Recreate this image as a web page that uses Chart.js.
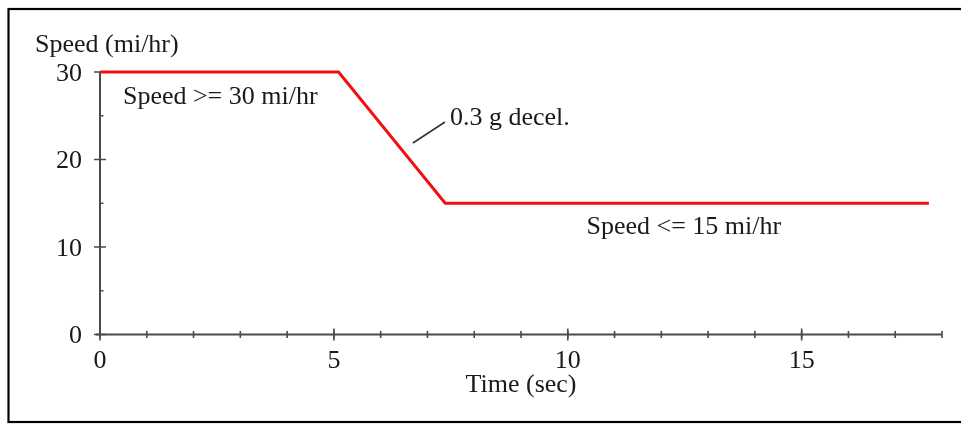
<!DOCTYPE html>
<html>
<head>
<meta charset="utf-8">
<script src="https://cdn.jsdelivr.net/npm/chart.js@4/dist/chart.umd.min.js"></script>
<style>
  html, body { margin: 0; padding: 0; background: #fff; }
  #wrap { width: 961px; height: 424px; position: relative; }
</style>
</head>
<body>
<div id="wrap"><canvas id="c"></canvas></div>
<script>
// ---- data ----
const timeSec = [0, 5.1, 7.38, 17.72];
const speedMph = [30, 30, 15, 15];
const xTickLabels = [0, 5, 10, 15];
const yTickLabels = [0, 10, 20, 30];
const xMinorTicks = [0,1,2,3,4,5,6,7,8,9,10,11,12,13,14,15,16,17,18];
const yMinorTicks = [5, 15, 25];
const xTitle = 'Time (sec)';
const yTitle = 'Speed (mi/hr)';
const noteTexts = ['Speed >= 30 mi/hr', '0.3 g decel.', 'Speed <= 15 mi/hr'];
const noteX = [0.49, 7.48, 10.40];
const noteY = [26.29, 23.94, 11.49];
const leaderX = [6.69, 7.375];
const leaderY = [21.89, 24.29];

const FONT = '26px "Liberation Serif", "Times New Roman", serif';
const TEXT = '#1a1a1a';
const AXIS = '#4a4a4a';

const points = timeSec.map((t, i) => ({ x: t, y: speedMph[i] }));

const decor = {
  id: 'decor',
  beforeDatasetsDraw(chart) {
    const ctx = chart.ctx;
    const xs = chart.scales.x, ys = chart.scales.y;
    const px = v => xs.getPixelForValue(v);
    const py = v => ys.getPixelForValue(v);
    ctx.save();
    // frame
    ctx.strokeStyle = '#000';
    ctx.lineWidth = 2.2;
    ctx.strokeRect(8.5, 9, 962, 413);
    // axes
    ctx.strokeStyle = AXIS;
    ctx.lineWidth = 2;
    ctx.beginPath();
    ctx.moveTo(px(0), py(30));
    ctx.lineTo(px(0), py(0));
    ctx.moveTo(px(0) - 4, py(0));
    ctx.lineTo(px(18), py(0));
    ctx.stroke();
    // minor ticks
    ctx.lineWidth = 1.6;
    ctx.beginPath();
    xMinorTicks.forEach(v => { ctx.moveTo(px(v), py(0) - 3.5); ctx.lineTo(px(v), py(0) + 3.5); });
    yMinorTicks.forEach(v => { ctx.moveTo(px(0) - 1, py(v)); ctx.lineTo(px(0) + 3.5, py(v)); });
    ctx.stroke();
    // major ticks
    ctx.beginPath();
    xTickLabels.forEach(v => { ctx.moveTo(px(v), py(0) - 6); ctx.lineTo(px(v), py(0) + 6); });
    yTickLabels.forEach(v => { ctx.moveTo(px(0) - 6, py(v)); ctx.lineTo(px(0) + 6, py(v)); });
    ctx.stroke();
    // tick labels
    ctx.fillStyle = TEXT;
    ctx.font = FONT;
    ctx.textBaseline = 'alphabetic';
    ctx.textAlign = 'center';
    xTickLabels.forEach(v => ctx.fillText(String(v), px(v), py(0) + 33.5));
    ctx.textAlign = 'right';
    yTickLabels.forEach(v => ctx.fillText(String(v), px(0) - 18, py(v) + 8.5));
    // titles
    ctx.textAlign = 'center';
    ctx.fillText(xTitle, px(9), py(0) + 57.5);
    ctx.textAlign = 'left';
    ctx.fillText(yTitle, px(0) - 65, py(30) - 20);
    // notes
    noteTexts.forEach((t, i) => ctx.fillText(t, px(noteX[i]), py(noteY[i])));
    // leader line
    ctx.strokeStyle = '#333';
    ctx.lineWidth = 1.6;
    ctx.beginPath();
    ctx.moveTo(px(leaderX[0]), py(leaderY[0]));
    ctx.lineTo(px(leaderX[1]), py(leaderY[1]));
    ctx.stroke();
    ctx.restore();
  }
};

new Chart(document.getElementById('c'), {
  type: 'line',
  data: {
    datasets: [{
      data: points,
      borderColor: '#f01010',
      borderWidth: 3,
      pointRadius: 0,
      tension: 0,
      fill: false,
      clip: false
    }]
  },
  options: {
    responsive: true,
    maintainAspectRatio: false,
    animation: false,
    events: [],
    layout: { padding: { left: 100, right: 19, top: 72, bottom: 89.5 } },
    plugins: { legend: { display: false }, tooltip: { enabled: false } },
    scales: {
      x: { type: 'linear', min: 0, max: 18, display: false },
      y: { type: 'linear', min: 0, max: 30, display: false }
    }
  },
  plugins: [decor]
});
</script>
</body>
</html>
